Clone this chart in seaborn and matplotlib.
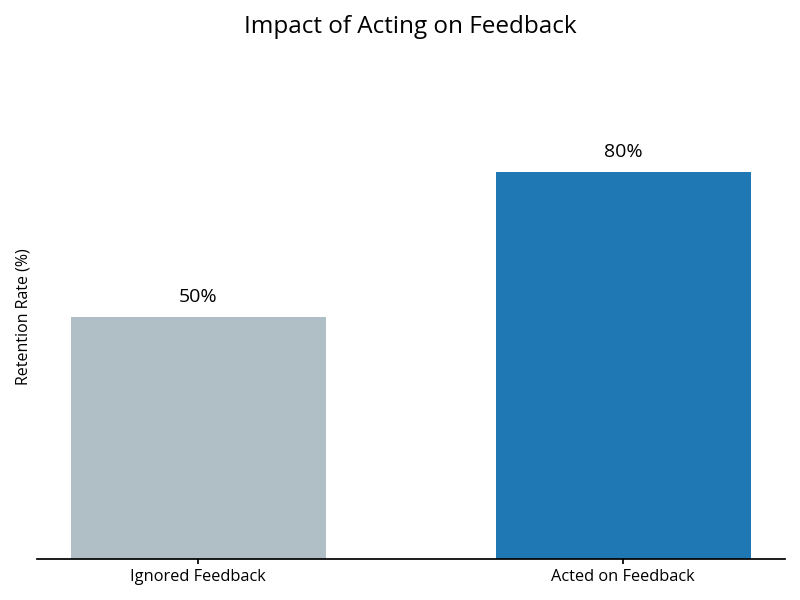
import matplotlib

matplotlib.use("Agg")
import matplotlib.pyplot as plt
import pandas as pd
import seaborn as sns

categorias = ["Ignored Feedback", "Acted on Feedback"]
retencao = [50, 80]
cores = ["#b0bec5", "#1f77b4"]

sns.set_theme(style="white")
plt.rcParams["font.family"] = ["Open Sans", "DejaVu Sans"]

df = pd.DataFrame({"grupo": categorias, "retencao": retencao})

fig, ax = plt.subplots(figsize=(8, 6), dpi=100)
sns.barplot(
    data=df,
    x="grupo",
    y="retencao",
    hue="grupo",
    palette=cores,
    width=0.6,
    saturation=1,
    linewidth=0,
    legend=False,
    ax=ax,
)

for i, v in enumerate(retencao):
    ax.annotate(
        f"{v}%",
        (i, v),
        xytext=(0, 8),
        textcoords="offset points",
        ha="center",
        va="bottom",
        fontsize=14,
        color="black",
    )

ax.set_xlim(-0.38, 1.38)
ax.set_ylim(0, 100)
ax.set_title("Impact of Acting on Feedback", fontsize=17.5, color="black", pad=30)
ax.set_xlabel("")
ax.set_ylabel("Retention Rate (%)", fontsize=11.5, color="black")
ax.set_yticks([])
ax.tick_params(axis="x", labelsize=11.8, colors="black", bottom=True, length=3.5)
sns.despine(ax=ax, left=True)
ax.spines["bottom"].set_color("black")

fig.subplots_adjust(left=0.046, right=0.981, bottom=0.068, top=0.875)
fig.savefig("out.png", dpi=100)
